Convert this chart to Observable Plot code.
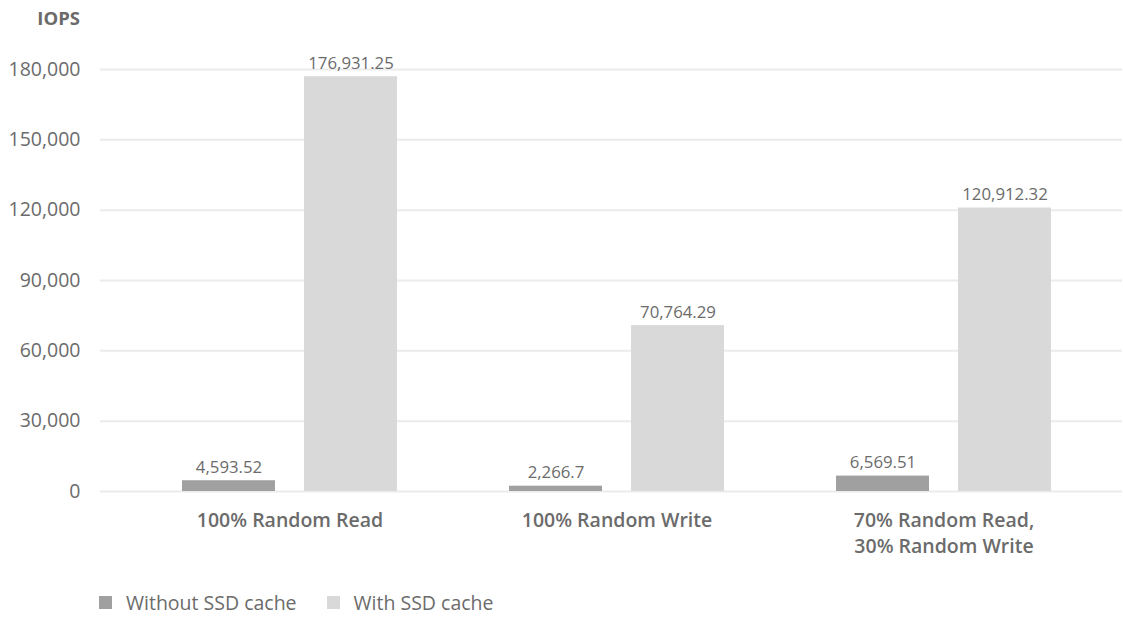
<!DOCTYPE html>
<html>
<head>
<meta charset="utf-8">
<script src="https://cdn.jsdelivr.net/npm/d3@7"></script>
<script src="https://cdn.jsdelivr.net/npm/@observablehq/plot@0.6"></script>
<style>
  body { margin: 0; background: #fff; font-family: "Open Sans", sans-serif; color: #6b6b6b; }
  #title { height: 40px; width: 80px; text-align: right; font-weight: 700; font-size: 18.5px; line-height: 36px; color: #6b6b6b; }
  #legend { display: flex; align-items: center; margin-left: 99px; margin-top: 19px; font-size: 19.5px; color: #6b6b6b; }
  .item { display: flex; align-items: center; margin-right: 30px; }
  .sw { width: 13px; height: 13px; margin-right: 14px; }
</style>
</head>
<body>
<div id="title">IOPS</div>
<div id="chart"></div>
<div id="legend"></div>
<script>
const categories = ["100% Random Read", "100% Random Write", "70% Random Read,\n30% Random Write"];
const series = ["Without SSD cache", "With SSD cache"];
const withoutSSD = [4593.52, 2266.7, 6569.51];
const withSSD = [176931.25, 70764.29, 120912.32];
const yTicks = [0, 30000, 60000, 90000, 120000, 150000, 180000];
const colors = ["#a0a0a0", "#d9d9d9"];

const rowsWithout = categories.map((c, i) => ({category: c, series: series[0], value: withoutSSD[i]}));
const rowsWith = categories.map((c, i) => ({category: c, series: series[1], value: withSSD[i]}));
const fmt = d3.format(",");

const chart = Plot.plot({
  width: 1123,
  height: 530,
  marginTop: 29,
  marginBottom: 79,
  marginLeft: 100,
  marginRight: 1,
  style: {fontFamily: "Open Sans, sans-serif", color: "#6b6b6b", background: "#fff"},
  x: {domain: categories, padding: 0, insetLeft: 25, insetRight: 15, label: null},
  y: {domain: [0, 180000], label: null},
  color: {domain: series, range: colors},
  marks: [
    Plot.gridY(yTicks, {stroke: "#ebebeb", strokeOpacity: 1, strokeWidth: 2}),
    Plot.barY(rowsWithout, {x: "category", y: "value", fill: colors[0], insetLeft: 56, insetRight: 178}),
    Plot.barY(rowsWith, {x: "category", y: "value", fill: colors[1], insetLeft: 178, insetRight: 56}),
    Plot.text(rowsWithout, {x: "category", y: "value", text: d => fmt(d.value), dx: -61, dy: -8, lineAnchor: "bottom", fontSize: 16.8, fill: "#6b6b6b"}),
    Plot.text(rowsWith, {x: "category", y: "value", text: d => fmt(d.value), dx: 61, dy: -8, lineAnchor: "bottom", fontSize: 16.8, fill: "#6b6b6b"}),
    Plot.axisY(yTicks, {tickSize: 0, tickPadding: 20, fontSize: 19.5, tickFormat: d3.format(","), label: null, fill: "#6b6b6b"}),
    Plot.axisX({tickSize: 0, tickPadding: 17, fontSize: 19.5, fontWeight: 600, lineHeight: 1.32, label: null, fill: "#6b6b6b"})
  ]
});
document.getElementById("chart").appendChild(chart);

const legend = document.getElementById("legend");
series.forEach((s, i) => {
  const item = document.createElement("div");
  item.className = "item";
  const sw = document.createElement("div");
  sw.className = "sw";
  sw.style.background = colors[i];
  const t = document.createElement("span");
  t.textContent = s;
  item.appendChild(sw);
  item.appendChild(t);
  legend.appendChild(item);
});
</script>
</body>
</html>
